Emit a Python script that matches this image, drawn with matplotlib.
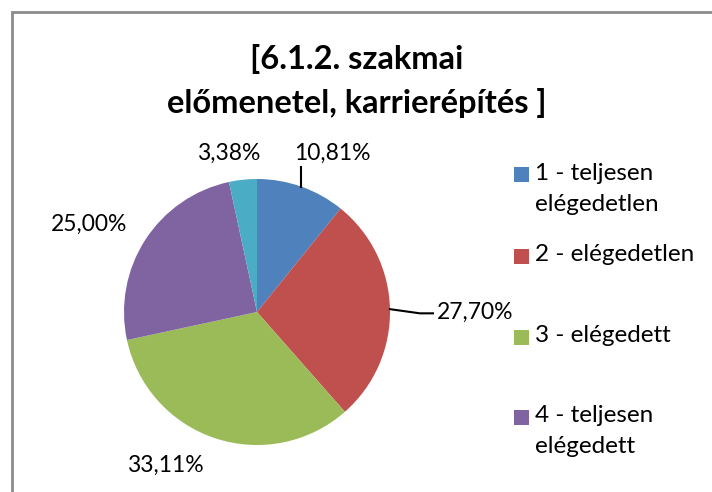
import numpy as np
import matplotlib
matplotlib.use("Agg")
import matplotlib.pyplot as plt
from matplotlib.patches import Rectangle

plt.rcParams['font.family'] = ['Lato', 'DejaVu Sans']

# data
categories = ["1 - teljesen\nelégedetlen", "2 - elégedetlen", "3 - elégedett",
              "4 - teljesen\nelégedett", "5 - nem tudja"]
shares = [10.81, 27.70, 33.11, 25.00, 3.38]
colors = ["#4F81BD", "#C0504D", "#9BBB59", "#8064A2", "#4BACC6"]
title = "[6.1.2. szakmai\nelőmenetel, karrierépítés ]"

# label layout (pie units, radius = 1)
label_pos = [(0.57, 1.19), (1.353, 0.0), (-0.69, -1.15), (-1.263, 0.662), (-0.21, 1.19)]
label_ha = ["center", "left", "center", "center", "center"]

W, H = 712, 492
fig = plt.figure(figsize=(W / 100, H / 100), dpi=100)

# chart frame
fig.patches.append(Rectangle((12 / W, -0.02), 1.05, 1 - 12 / H + 0.02, transform=fig.transFigure,
                             fill=False, edgecolor="#8c8c8c", linewidth=2.0))

ax = fig.add_axes([124 / W, 47 / H, 266 / W, 266 / H])
wedges, _ = ax.pie(shares, colors=colors, startangle=90, counterclock=False,
                   radius=1, wedgeprops=dict(linewidth=0))
ax.set_xlim(-1, 1)
ax.set_ylim(-1, 1)
ax.axis("off")

for i, (w, val) in enumerate(zip(wedges, shares)):
    txt = f"{val:.2f}%".replace(".", ",")
    lx, ly = label_pos[i]
    ax.text(lx, ly, txt, ha=label_ha[i], va="center", fontsize=16.5, clip_on=False)
    mid = np.deg2rad((w.theta1 + w.theta2) / 2)
    ex, ey = np.cos(mid), np.sin(mid)
    if i == 0:
        ax.plot([ex, ex], [ey, ly - 0.1], color="black", lw=1.5, clip_on=False)
    elif i == 1:
        ax.plot([ex, 1.225, lx - 0.03], [ey, ly - 0.01, ly - 0.01], color="black", lw=1.5,
                clip_on=False)

# legend (only the first four entries fit in the box)
legend_y = [175, 256, 337, 417]
for i, y in enumerate(legend_y):
    fig.patches.append(Rectangle((514 / W, 1 - (y + 7.5) / H), 15 / W, 15 / H,
                                 transform=fig.transFigure, facecolor=colors[i], edgecolor="none"))
    fig.text(535 / W, 1 - (y - 12) / H, categories[i], ha="left", va="top", fontsize=17.5,
             linespacing=1.6)

fig.text(357 / W, 1 - 81 / H, title, ha="center", va="center", fontsize=23.5,
         fontweight="bold", linespacing=1.6)

fig.savefig("out.png", dpi=100)
